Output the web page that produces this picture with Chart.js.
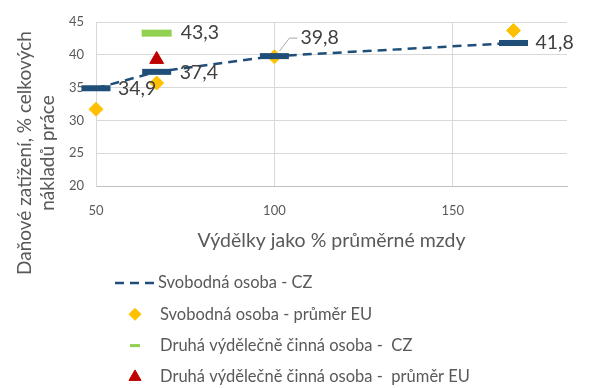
<!DOCTYPE html>
<html>
<head>
<meta charset="utf-8">
<script src="https://cdn.jsdelivr.net/npm/chart.js@4"></script>
<style>
  html, body { margin: 0; padding: 0; background: #fff; }
  #wrap { width: 589px; height: 388px; position: relative; }
</style>
</head>
<body>
<div id="wrap"><canvas id="chart"></canvas></div>
<script>
// earnings as % of average wage
const earnings = [50, 67, 100, 167];
const singleCz = [34.9, 37.4, 39.8, 41.8];
const singleEu = [31.7, 35.7, 39.7, 43.7];
const secondEarnerX = [67];
const secondCz = [43.3];
const secondEu = [39.3];
const xTicks = [50, 100, 150];
const seriesNames = [
    'Svobodná osoba - CZ',
    'Svobodná osoba - průměr EU',
    'Druhá výdělečně činná osoba -  CZ',
    'Druhá výdělečně činná osoba -  průměr EU'
];
const yTitle = ['Daňové zatížení, % celkových', 'nákladů práce'];
const xTitle = 'Výdělky jako % průměrné mzdy';

const FONT = 'Lato, "Open Sans", sans-serif';
const TEXT = '#595959';
const BLUE = '#1f4e79';

function toPoints(xs, ys) {
    return xs.map((x, i) => ({ x: x, y: ys[i] }));
}

function fmt(v) {
    return v.toFixed(1).replace('.', ',');
}

// value labels next to the CZ markers, with a leader for the 100 % point
const valueLabels = {
    id: 'valueLabels',
    afterDatasetsDraw(chart, args, opts) {
        const ctx = chart.ctx;
        ctx.save();
        ctx.font = '19.5px ' + FONT;
        ctx.fillStyle = '#404040';
        ctx.textBaseline = 'middle';
        ctx.textAlign = 'left';
        Object.keys(opts.offsets).forEach(di => {
            const meta = chart.getDatasetMeta(+di);
            const ds = chart.data.datasets[di];
            meta.data.forEach((pt, i) => {
                const off = opts.offsets[di][i];
                const tx = pt.x + off[0], ty = pt.y + off[1];
                if (off[2]) {
                    ctx.strokeStyle = '#a6a6a6';
                    ctx.lineWidth = 1;
                    ctx.beginPath();
                    ctx.moveTo(pt.x + 5, pt.y - 5);
                    ctx.lineTo(tx - 11, ty);
                    ctx.lineTo(tx - 3, ty);
                    ctx.stroke();
                }
                ctx.fillText(fmt(ds.data[i].y), tx, ty);
            });
        });
        ctx.restore();
    }
};

// rotated two-line title on the left
const sideTitle = {
    id: 'sideTitle',
    afterDraw(chart, args, opts) {
        const ctx = chart.ctx;
        ctx.save();
        ctx.font = opts.size + 'px ' + FONT;
        ctx.fillStyle = TEXT;
        ctx.textAlign = 'center';
        ctx.textBaseline = 'middle';
        yTitle.forEach((line, i) => {
            ctx.save();
            ctx.translate(opts.x[i], opts.y);
            ctx.rotate(-Math.PI / 2);
            ctx.fillText(line, 0, 0);
            ctx.restore();
        });
        ctx.restore();
    }
};

// vertical legend under the x axis title
const listLegend = {
    id: 'listLegend',
    afterDraw(chart, args, opts) {
        const ctx = chart.ctx;
        ctx.save();
        ctx.font = opts.size + 'px ' + FONT;
        ctx.textBaseline = 'middle';
        chart.data.datasets.forEach((ds, i) => {
            const y = opts.top + i * opts.step;
            if (i === 0) {
                ctx.strokeStyle = ds.borderColor;
                ctx.lineWidth = 2.5;
                ctx.setLineDash([9, 6]);
                ctx.beginPath();
                ctx.moveTo(opts.x - 20, y);
                ctx.lineTo(opts.x + 22, y);
                ctx.stroke();
                ctx.setLineDash([]);
                ctx.fillStyle = TEXT;
                ctx.fillText(ds.label, opts.textX - 2, y);
            } else {
                ctx.fillStyle = ds.pointBackgroundColor;
                ctx.strokeStyle = ds.pointBorderColor;
                ctx.lineWidth = opts.border[i];
                Chart.helpers.drawPoint(ctx, {
                    pointStyle: ds.pointStyle,
                    radius: opts.radius[i],
                    borderWidth: opts.border[i],
                    rotation: 0
                }, opts.x, y);
                ctx.fillStyle = TEXT;
                ctx.fillText(ds.label, opts.textX, y);
            }
        });
        ctx.restore();
    }
};

new Chart(document.getElementById('chart'), {
    type: 'scatter',
    data: {
        datasets: [
            {
                label: seriesNames[0],
                data: toPoints(earnings, singleCz),
                showLine: true,
                clip: false,
                borderColor: BLUE,
                borderWidth: 2.5,
                borderDash: [9, 6],
                pointStyle: 'line',
                pointRadius: 14.5,
                pointBorderWidth: 6,
                pointBorderColor: BLUE,
                pointBackgroundColor: BLUE
            },
            {
                label: seriesNames[1],
                data: toPoints(earnings, singleEu),
                clip: false,
                pointStyle: 'rectRot',
                pointRadius: 7,
                pointBorderWidth: 1,
                pointBackgroundColor: '#ffc000',
                pointBorderColor: '#ffc000'
            },
            {
                label: seriesNames[2],
                data: toPoints(secondEarnerX, secondCz),
                clip: false,
                pointStyle: 'line',
                pointRadius: 15,
                pointBorderWidth: 7,
                pointBackgroundColor: '#92d050',
                pointBorderColor: '#92d050'
            },
            {
                label: seriesNames[3],
                data: toPoints(secondEarnerX, secondEu),
                clip: false,
                pointStyle: 'triangle',
                pointRadius: 8,
                pointBorderWidth: 1,
                pointBackgroundColor: '#c00000',
                pointBorderColor: '#c00000'
            }
        ]
    },
    options: {
        responsive: true,
        maintainAspectRatio: false,
        animation: false,
        events: [],
        layout: { padding: { left: 0, right: 14, top: 20, bottom: 132 } },
        plugins: {
            legend: { display: false },
            tooltip: { enabled: false },
            valueLabels: {
                offsets: {
                    0: [[22, 0], [23, 1], [26, -18, true], [22, 0]],
                    2: [[24, 0]]
                }
            },
            sideTitle: { size: 19, x: [25, 48], y: 153 },
            listLegend: {
                x: 135, textX: 160, top: 283, step: 31.3, size: 16.5,
                radius: [0, 6, 5, 7],
                border: [0, 1, 3, 1]
            }
        },
        scales: {
            x: {
                type: 'linear',
                min: 50,
                max: 182,
                afterFit(scale) { scale.height = 70; },
                afterBuildTicks(scale) { scale.ticks = xTicks.map(v => ({ value: v })); },
                ticks: { color: TEXT, font: { family: FONT, size: 13 }, padding: 17 },
                grid: { color: '#d9d9d9', lineWidth: 1, drawTicks: false },
                border: { color: '#bfbfbf', width: 1 },
                title: {
                    display: true,
                    text: xTitle,
                    color: TEXT,
                    font: { family: FONT, size: 19.5 },
                    padding: { top: -2 }
                }
            },
            y: {
                min: 20,
                max: 45,
                afterFit(scale) { scale.width = 96; },
                ticks: { stepSize: 5, color: TEXT, font: { family: FONT, size: 13 }, padding: 12 },
                grid: { color: '#d9d9d9', lineWidth: 1, drawTicks: false },
                border: { color: '#d9d9d9', width: 1 }
            }
        }
    },
    plugins: [valueLabels, sideTitle, listLegend]
});
</script>
</body>
</html>
